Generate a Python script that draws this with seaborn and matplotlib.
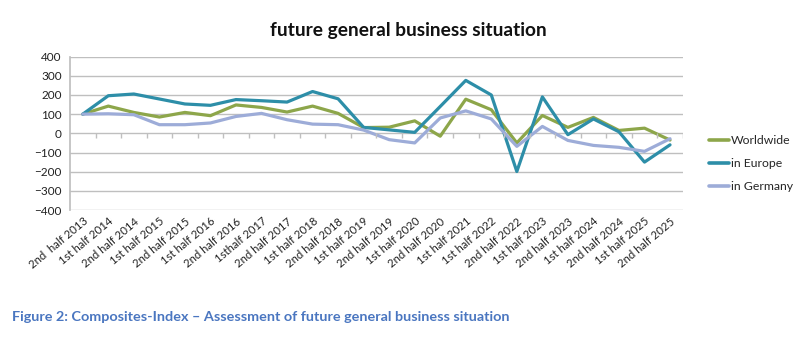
import matplotlib
matplotlib.use("Agg")
import matplotlib.pyplot as plt
import matplotlib.transforms as mtransforms
import seaborn as sns
import pandas as pd
import numpy as np

periods = ["2nd  half 2013", "1st half 2014", "2nd half 2014", "1st half 2015", "2nd half 2015",
           "1st half 2016", "2nd half 2016", "1sthalf 2017", "2nd half 2017", "1st half 2018",
           "2nd half 2018", "1st half 2019", "2nd half 2019", "1st half 2020", "2nd half 2020",
           "1st half 2021", "1st half 2022", "2nd half 2022", "1st half 2023", "2nd half 2023",
           "1st half 2024", "2nd half 2024", "1st half 2025", "2nd half 2025"]
worldwide = [100, 142, 109, 85, 109, 92, 148, 135, 111, 142, 104, 30, 32, 65, -15,
             178, 123, -50, 93, 31, 83, 15, 27, -35]
europe = [100, 196, 205, 179, 153, 146, 176, 170, 163, 218, 180, 31, 18, 5, 140,
          276, 200, -199, 190, -7, 75, 8, -150, -60]
germany = [100, 102, 97, 45, 45, 54, 88, 104, 71, 48, 45, 17, -33, -50, 80,
           117, 75, -68, 36, -37, -63, -73, -94, -28]
series_names = ["Worldwide", "in Europe", "in Germany"]
colors = ["#8DA64A", "#2D8EA8", "#9DACD8"]

df = pd.DataFrame({
    "period": periods * 3,
    "value": worldwide + europe + germany,
    "series": np.repeat(series_names, len(periods)),
})

sns.set_theme(style="white")
plt.rcParams["font.family"] = ["Lato", "DejaVu Sans"]

fig = plt.figure(figsize=(8.0, 3.41), dpi=100)
ax = fig.add_axes([0.0875, 0.384, 0.766, 0.450])

sns.lineplot(data=df, x="period", y="value", hue="series", palette=colors,
             hue_order=series_names, sort=False, linewidth=2.3, ax=ax, legend=False)

n = len(periods)
ax.set_xlim(-0.5, n - 0.5)
ax.set_ylim(-400, 400)
ax.set_yticks(np.arange(-400, 401, 100))
ax.yaxis.grid(True, color="#BFBFBF", linewidth=1.0)
ax.set_axisbelow(True)
for s in ["top", "right", "bottom"]:
    ax.spines[s].set_visible(False)
ax.spines["left"].set_color("#BFBFBF")
ax.tick_params(axis="y", length=4, color="#BFBFBF", labelsize=8.5, labelcolor="#222222", pad=2)
ax.set_xlabel("")
ax.set_ylabel("")

ax.set_xticks(range(n))
ax.set_xticklabels(periods, rotation=40, ha="right", rotation_mode="anchor",
                   fontsize=8.2, color="#222222")
ax.tick_params(axis="x", length=0, pad=4)

# category boundary tick marks on the zero line
trans = mtransforms.blended_transform_factory(ax.transData, ax.transAxes)
bounds = np.arange(n + 1) - 0.5
ax.vlines(bounds[1:], 0.5 - 0.03, 0.5, transform=trans, color="#BFBFBF", linewidth=1.0)

# legend
from matplotlib.lines import Line2D
handles = [Line2D([0], [0], color=c, lw=2.6) for c in colors]
fig.legend(handles, series_names, loc="center left", bbox_to_anchor=(0.872, 0.52),
           frameon=False, fontsize=8.8, handlelength=1.7, handletextpad=0.1,
           labelspacing=1.0)

fig.text(0.511, 0.91, "future general business situation", ha="center", va="center",
         fontsize=13.8, fontweight="bold", color="#111111")
fig.text(0.015, 0.07, "Figure 2: Composites-Index \u2013 Assessment of future general business situation",
         ha="left", va="center", fontsize=10.4, fontweight="bold", color="#4A76C0")

fig.savefig("out.png", dpi=100)
